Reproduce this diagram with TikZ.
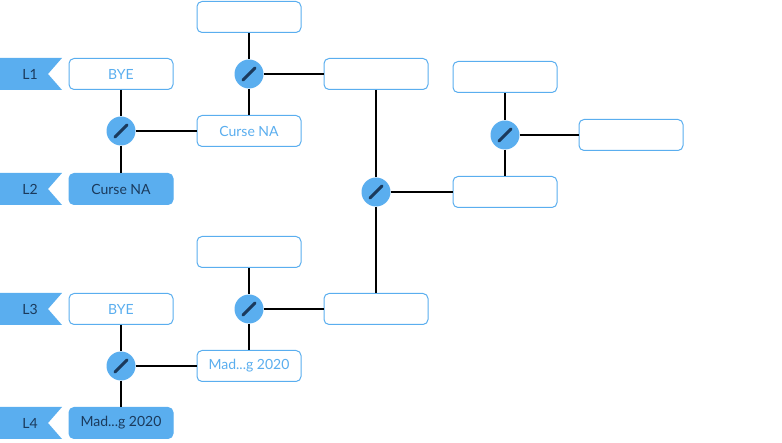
\documentclass[tikz,border=0pt]{standalone}
\usepackage{fontspec}
\setmainfont{Lato}
\definecolor{bl}{HTML}{5AAEEF}
\definecolor{nv}{HTML}{1B3A5C}
\begin{document}
\begin{tikzpicture}[x=1pt,y=-1pt,
  box/.style={draw=bl,line width=1pt,rounded corners=5pt,minimum width=104pt,minimum height=31pt,inner sep=0pt,font=\fontsize{14}{14}\selectfont,text=bl,fill=white},
  win/.style={box,fill=bl,text=nv},
  disc/.style={circle,fill=bl,minimum size=29pt,inner sep=0pt},
  ln/.style={line width=2.4pt,black}]
\useasboundingbox (0,0) rectangle (782,443);
\tikzset{tag/.pic={\fill[bl] (0,-16) -- (62,-16) -- (48,0) -- (62,16) -- (0,16) -- cycle;}}
\foreach \y/\t in {74/L1,189/L2,309/L3,423/L4}{
  \pic at (0,\y) {tag};
  \node[font=\fontsize{14}{14}\selectfont,text=nv] at (30,\y) {\t};}
\node[box] (b1) at (121,74) {BYE};
\node[win] (b2) at (121,189) {Curse NA};
\node[box] (b3) at (121,309) {BYE};
\node[win] (b4) at (121,423) {Mad...g 2020};
\node[box] (r2a) at (249,17) {};
\node[box] (r2b) at (249,131) {Curse NA};
\node[box] (r2c) at (249,252) {};
\node[box] (r2d) at (249,366) {Mad...g 2020};
\node[box] (r3a) at (376,74) {};
\node[box] (r3b) at (376,309) {};
\node[box] (r4a) at (505,77) {};
\node[box] (r4b) at (505,192) {};
\node[box] (r5) at (631,135) {};
\node[disc] (c1) at (121,131) {};
\node[disc] (c2) at (121,366) {};
\node[disc] (c3) at (249,74) {};
\node[disc] (c4) at (249,309) {};
\node[disc] (c5) at (376,192) {};
\node[disc] (c6) at (505,135) {};
\draw[ln] (b1.south) -- (c1.north) (c1.south) -- (b2.north) (c1.east) -- (r2b.west);
\draw[ln] (b3.south) -- (c2.north) (c2.south) -- (b4.north) (c2.east) -- (r2d.west);
\draw[ln] (r2a.south) -- (c3.north) (c3.south) -- (r2b.north) (c3.east) -- (r3a.west);
\draw[ln] (r2c.south) -- (c4.north) (c4.south) -- (r2d.north) (c4.east) -- (r3b.west);
\draw[ln] (r3a.south) -- (c5.north) (c5.south) -- (r3b.north) (c5.east) -- (r4b.west);
\draw[ln] (r4a.south) -- (c6.north) (c6.south) -- (r4b.north) (c6.east) -- (r5.west);
\foreach \c in {c1,c2,c3,c4,c5,c6}
  \draw[line width=3pt,nv,line cap=round] ([shift={(-6,6)}]\c.center) -- ([shift={(6,-6)}]\c.center);
\end{tikzpicture}
\end{document}
